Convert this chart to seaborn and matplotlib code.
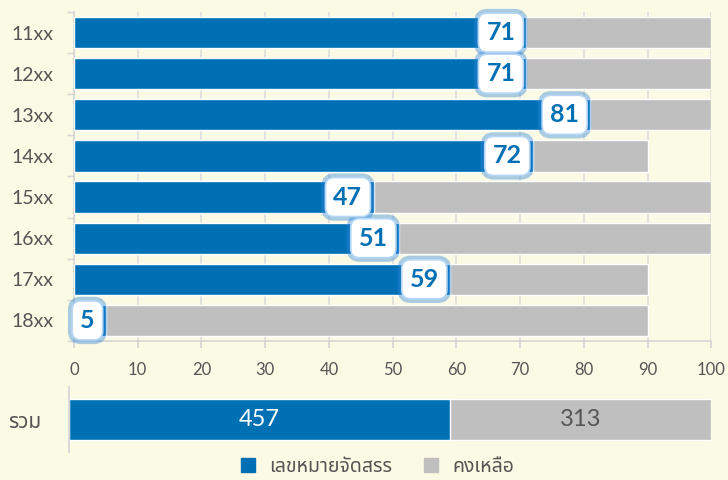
import numpy as np
import pandas as pd
import matplotlib
matplotlib.use("Agg")
import matplotlib.pyplot as plt
import seaborn as sns
from matplotlib.lines import Line2D

# data
categories = ["11xx", "12xx", "13xx", "14xx", "15xx", "16xx", "17xx", "18xx"]
allocated = [71, 71, 81, 72, 47, 51, 59, 5]
remaining = [29, 29, 19, 18, 53, 49, 31, 85]
total_label = "รวม"
total_allocated = 457
total_remaining = 313
legend_labels = ["เลขหมายจัดสรร", "คงเหลือ"]

blue = "#0070B5"
grey = "#BFBFBF"
bg = "#FBFAE5"
txt = "#555555"

sns.set_theme(style="white")
plt.rcParams["font.family"] = ["Lato", "Noto Sans Thai", "Loma", "Garuda", "Sawasdee",
                               "Tlwg Typo", "Norasi", "DejaVu Sans"]

df = pd.DataFrame({"cat": categories, "allocated": allocated, "remaining": remaining})
df["total"] = df["allocated"] + df["remaining"]

fig = plt.figure(figsize=(7.28, 4.8), dpi=100, facecolor=bg)
ax = fig.add_axes([0.1016, 0.2896, 0.8755, 0.6854])
ax2 = fig.add_axes([0.0948, 0.0583, 0.8819, 0.1354])

# top panel
ax.set_facecolor(bg)
sns.barplot(data=df, x="total", y="cat", color=grey, width=0.76, saturation=1, ax=ax, zorder=2)
sns.barplot(data=df, x="allocated", y="cat", color=blue, width=0.76, saturation=1, ax=ax, zorder=3)
ax.set_xlim(0, 100)
ax.set_xticks(np.arange(0, 101, 10))
ax.grid(axis="x", color="#DCDCDC", lw=1.2, zorder=0)
ax.set_axisbelow(True)
ax.set_xlabel("")
ax.set_ylabel("")
for s in ["top", "right"]:
    ax.spines[s].set_visible(False)
for s in ["left", "bottom"]:
    ax.spines[s].set_color("#D5D5D5")
    ax.spines[s].set_linewidth(1.2)
ax.set_yticks(np.arange(-0.5, len(categories), 1), minor=True)
ax.tick_params(axis="y", which="major", length=0, labelsize=14, labelcolor=txt, pad=15)
ax.tick_params(axis="y", which="minor", length=5, color="#D5D5D5", left=True)
ax.tick_params(axis="x", which="major", length=5, color="#D5D5D5", bottom=True,
               labelsize=12, labelcolor=txt, pad=10)

box_glow = dict(boxstyle="round,pad=0.32,rounding_size=0.35", fc="white",
                ec="#2E86DA", lw=6, alpha=0.4)
box_face = dict(boxstyle="round,pad=0.32,rounding_size=0.35", fc="white",
                ec="#B5D6F4", lw=1.2)
for i, v in enumerate(allocated):
    for bb, z in [(box_glow, 5), (box_face, 6)]:
        ax.annotate(str(v), xy=(v, i), xytext=(-8, 0), textcoords="offset points",
                    ha="right", va="center", fontsize=18, color=blue, fontweight="bold",
                    zorder=z, bbox=bb)

# bottom panel: totals
tot = pd.DataFrame({"cat": [total_label], "allocated": [total_allocated],
                    "total": [total_allocated + total_remaining]})
ax2.set_facecolor(bg)
sns.barplot(data=tot, x="total", y="cat", color=grey, width=0.63, saturation=1, ax=ax2)
sns.barplot(data=tot, x="allocated", y="cat", color=blue, width=0.63, saturation=1, ax=ax2)
ax2.set_xlim(0, total_allocated + total_remaining)
ax2.set_xticks([])
ax2.set_xlabel("")
ax2.set_ylabel("")
for s in ["top", "right", "bottom"]:
    ax2.spines[s].set_visible(False)
ax2.spines["left"].set_color("#D5D5D5")
ax2.tick_params(axis="y", length=0, labelsize=15, labelcolor=txt, pad=20)
ax2.text(total_allocated / 2, 0, str(total_allocated), ha="center", va="center",
         color="white", fontsize=17)
ax2.text(total_allocated + total_remaining / 2, 0, str(total_remaining), ha="center",
         va="center", color=txt, fontsize=17)

handles = [Line2D([], [], marker="s", ls="", color=blue, markersize=10),
           Line2D([], [], marker="s", ls="", color=grey, markersize=10)]
fig.legend(handles, legend_labels, loc="center", bbox_to_anchor=(0.51, 0.028), ncol=2,
           frameon=False, fontsize=14, labelcolor=txt, handletextpad=0.1, columnspacing=1.0,
           borderpad=0.1)

fig.savefig("out.png", dpi=100, facecolor=bg)
